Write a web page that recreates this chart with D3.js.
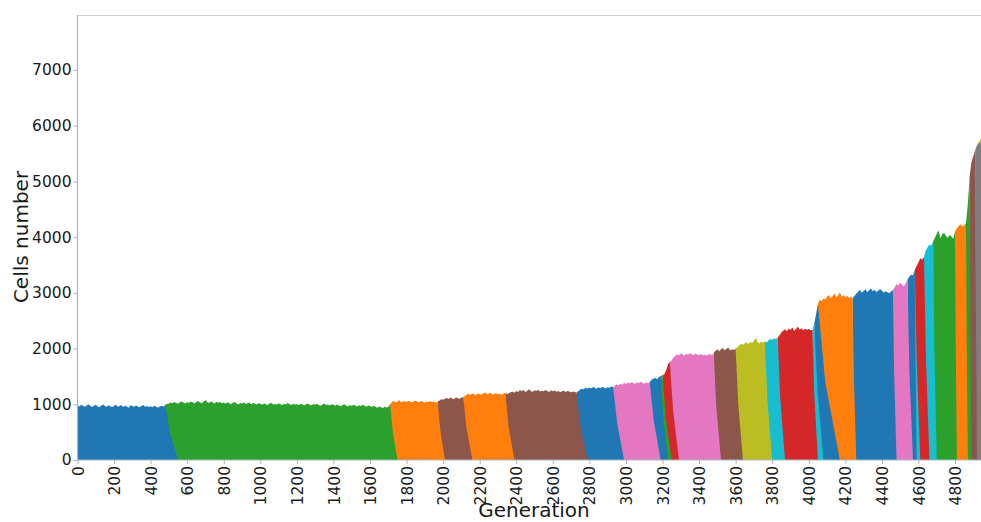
<!DOCTYPE html>
<html>
<head>
<meta charset="utf-8">
<script src="https://cdn.jsdelivr.net/npm/d3@7"></script>
<style>
  html, body { margin: 0; padding: 0; background: #fff; }
  svg { display: block; font-family: "DejaVu Sans", sans-serif; }
  .axis text { font-family: "DejaVu Sans", sans-serif; font-size: 15.5px; fill: #1a1a1a; }
</style>
</head>
<body>
<svg id="chart" width="981" height="522"></svg>
<script>
// Total population, one sample every 10 generations (generation 0 .. 4950)
const sampleStep = 10;
const totalCells = [
  985,960,990,972,955,980,1000,968,950,975,990,962,945,978,995,970,958,983,965,948,
  972,990,955,968,985,950,975,960,940,982,970,955,978,962,945,968,985,958,970,952,
  965,948,972,958,940,962,975,955,990,1005,1012,1030,1018,1040,1025,1010,1035,1050,1028,1015,
  1040,1022,1048,1035,1015,1042,1060,1030,1018,1045,1075,1038,1025,1050,1032,1012,1044,1028,1040,1020,
  1030,1008,1035,1020,1002,1028,1040,1015,998,1025,1012,1030,1005,1018,1032,1000,1022,1010,995,1020,
  1008,992,1015,1000,985,1012,1025,998,1005,990,1018,1002,988,1010,995,1022,1000,985,1008,996,
  1002,985,1010,995,978,1000,1015,990,980,1005,992,1010,988,975,998,1012,985,996,980,1002,
  990,972,995,980,965,988,1000,975,962,985,970,992,978,960,982,968,990,972,958,980,
  968,950,972,955,940,962,948,935,955,942,950,1000,1040,1065,1030,1050,1075,1035,1048,1060,
  1040,1062,1048,1030,1055,1070,1042,1035,1058,1045,1028,1052,1040,1060,1038,1050,1032,1045,1070,1090,
  1080,1100,1115,1095,1120,1105,1090,1125,1110,1098,1118,1130,1150,1175,1190,1168,1200,1182,1165,1195,
  1185,1170,1198,1210,1178,1192,1205,1172,1188,1200,1180,1195,1170,1190,1205,1185,1198,1215,1230,1205,
  1240,1220,1255,1232,1260,1218,1245,1270,1235,1225,1250,1238,1262,1228,1245,1232,1258,1240,1222,1250,
  1235,1248,1225,1240,1218,1232,1245,1220,1238,1228,1215,1230,1222,1210,1240,1265,1280,1270,1295,1285,
  1300,1285,1310,1295,1280,1305,1290,1315,1298,1285,1308,1295,1320,1310,1335,1355,1340,1370,1350,1385,
  1365,1390,1372,1400,1380,1362,1395,1378,1405,1385,1370,1392,1380,1398,1440,1460,1475,1450,1490,1510,
  1520,1540,1610,1720,1760,1790,1840,1870,1895,1880,1910,1892,1870,1905,1888,1920,1895,1878,1912,1890,
  1885,1902,1880,1895,1875,1890,1905,1882,1920,1960,1990,1950,1985,2010,1970,1995,2020,1965,1990,1975,
  2000,2030,2060,2085,2070,2095,2110,2080,2120,2100,2140,2200,2115,2090,2125,2105,2130,2110,2150,2170,
  2160,2185,2170,2200,2240,2290,2320,2345,2310,2360,2335,2380,2320,2350,2395,2340,2365,2330,2355,2340,
  2350,2330,2340,2450,2620,2800,2880,2850,2900,2880,2930,2960,2905,2940,2990,2925,2950,3010,2930,2960,
  2920,2945,2910,2935,2900,2950,2985,3020,3050,3000,3035,3065,3010,3045,3080,3030,3055,3015,3040,3070,
  3040,3005,3030,3010,2995,3025,3050,3100,3160,3130,3185,3150,3120,3170,3240,3290,3330,3310,3420,3480,
  3550,3620,3600,3640,3760,3820,3870,3850,3920,3990,4060,4120,3980,4050,4080,4020,3990,4040,4010,3970,
  4100,4160,4200,4230,4190,4215,4250,4600,5100,5350,5450,5560,5650,5700,5760,5820
];

// Clones in stacking order (bottom to top): colour, generation where the clone
// starts losing ground at the top of the stack, generation where it is down to
// half of that, and generation where it is gone.
const cloneColors = [
  "#1f77b4","#2ca02c","#ff7f0e","#8c564b","#ff7f0e","#8c564b","#1f77b4","#e377c2",
  "#1f77b4","#2ca02c","#d62728","#e377c2","#8c564b","#bcbd22","#17becf","#d62728",
  "#17becf","#1f77b4","#ff7f0e","#1f77b4","#e377c2","#1f77b4","#17becf","#d62728",
  "#17becf","#2ca02c","#ff7f0e","#2ca02c","#8c564b","#7f7f7f","#bcbd22"
];
const cloneFallStart = [
  480,1710,1970,2110,2340,2730,2930,3130,
  3190,3200,3240,3480,3600,3760,3830,4020,
  4030,4050,4240,4460,4540,4580,4580,4630,
  4680,4800,4860,4880,4910,4930,null
];
const cloneHalfGen = [
  505,1725,1985,2128,2358,2752,2952,3152,
  3204,3218,3258,3494,3614,3774,3844,4030,
  4048,4090,4247,4467,4550,4584,4591,4641,
  4687,4804,4864,4884,4914,null,null
];
const cloneFallEnd = [
  550,1750,2010,2160,2390,2790,2990,3190,
  3230,3250,3290,3520,3640,3800,3870,4050,
  4080,4170,4260,4480,4570,4590,4610,4660,
  4700,4810,4870,4890,4920,7000,null
];

const xTicks = d3.range(0, 4801, 200);
const yTicks = d3.range(0, 7001, 1000);

const svg = d3.select("#chart");
const W = 981;
const plotLeft = 77.5, plotTop = 15, plotBottom = 460;

const x = d3.scaleLinear().domain([0, 5000]).range([plotLeft, 991.6]);
const y = d3.scaleLinear().domain([0, 8000]).range([plotBottom, 14.3]);

const lastGen = (totalCells.length - 1) * sampleStep;
const totalAt = gen => totalCells[Math.round(gen / sampleStep)];

svg.append("defs").append("clipPath").attr("id", "plot")
  .append("rect").attr("x", plotLeft).attr("y", plotTop)
  .attr("width", W - plotLeft).attr("height", plotBottom - plotTop);

const area = d3.area()
  .x(d => x(d[0]))
  .y0(y(0))
  .y1(d => y(d[1]));

// Each clone: top edge follows the total until it starts to fall, then drops to zero.
const clonePaths = cloneColors.map((color, k) => {
  const start = k === 0 ? 0 : cloneFallStart[k - 1];
  const fallStart = cloneFallStart[k] == null ? lastGen : cloneFallStart[k];
  const pts = [];
  for (let gen = start; gen <= fallStart; gen += sampleStep) pts.push([gen, totalAt(gen)]);
  if (cloneHalfGen[k] != null) pts.push([cloneHalfGen[k], totalAt(fallStart) / 2]);
  if (cloneFallEnd[k] != null) pts.push([cloneFallEnd[k], 0]);
  return { color, pts };
});

const layer = svg.append("g").attr("clip-path", "url(#plot)");
// later clones underneath, earlier ones drawn over them
clonePaths.slice().reverse().forEach(c => {
  layer.append("path").attr("d", area(c.pts)).attr("fill", c.color);
});

// spines
const spine = "#b5b5b5";
svg.append("line").attr("x1", plotLeft).attr("x2", W).attr("y1", plotTop + 0.5).attr("y2", plotTop + 0.5)
  .attr("stroke", "#cfcfcf").attr("stroke-width", 1);
svg.append("line").attr("x1", plotLeft).attr("x2", plotLeft).attr("y1", plotTop).attr("y2", plotBottom)
  .attr("stroke", spine).attr("stroke-width", 1.2);
svg.append("line").attr("x1", plotLeft).attr("x2", W).attr("y1", plotBottom).attr("y2", plotBottom)
  .attr("stroke", "#a9b8c4").attr("stroke-width", 1);

const fmt = d3.format("d");

// y axis
const yAxis = svg.append("g").attr("class", "axis")
  .attr("transform", `translate(${plotLeft},0)`)
  .call(d3.axisLeft(y).tickValues(yTicks).tickFormat(fmt).tickSize(4).tickSizeOuter(0).tickPadding(2))
  .attr("font-size", 15.5).attr("font-family", "DejaVu Sans");
yAxis.select(".domain").remove();
yAxis.selectAll(".tick line").attr("stroke", spine);

// x axis with vertical labels
const xAxis = svg.append("g").attr("class", "axis")
  .attr("transform", `translate(0,${plotBottom})`)
  .call(d3.axisBottom(x).tickValues(xTicks).tickFormat(fmt).tickSize(4).tickSizeOuter(0))
  .attr("font-size", 15.5).attr("font-family", "DejaVu Sans");
xAxis.select(".domain").remove();
xAxis.selectAll(".tick line").attr("stroke", spine);
xAxis.selectAll("text")
  .attr("transform", "rotate(-90)")
  .attr("x", -6).attr("y", 0).attr("dy", "0.36em")
  .style("text-anchor", "end");

// axis titles
svg.append("text").attr("x", 534).attr("y", 517).attr("text-anchor", "middle")
  .attr("fill", "#1a1a1a").style("font-size", "20px").text("Generation");
svg.append("text").attr("transform", "translate(28,237) rotate(-90)").attr("text-anchor", "middle")
  .attr("fill", "#1a1a1a").style("font-size", "20px").text("Cells number");
</script>
</body>
</html>
